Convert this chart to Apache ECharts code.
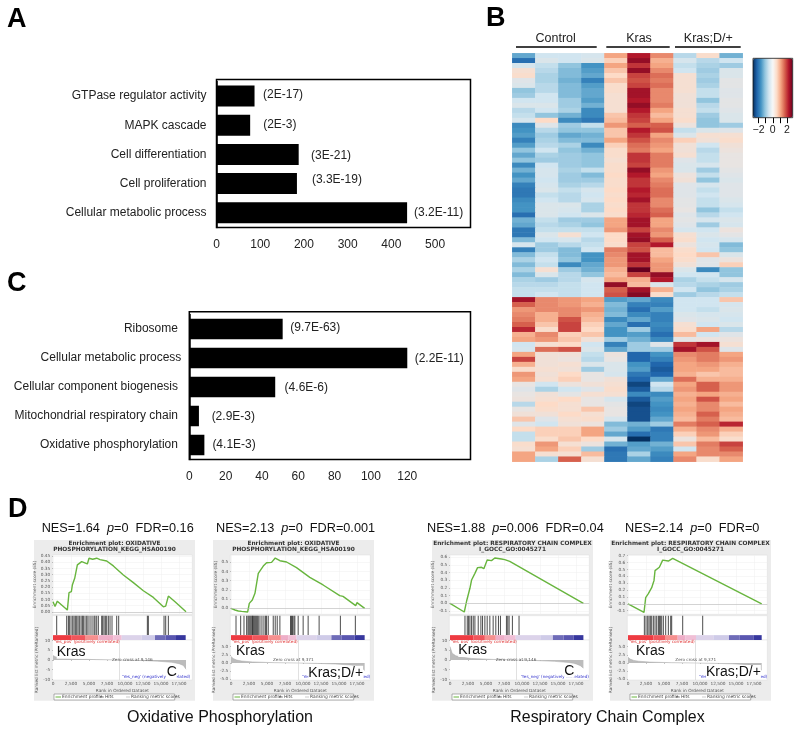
<!DOCTYPE html>
<html><head><meta charset="utf-8">
<style>html,body{margin:0;padding:0;background:#fff}#c{width:800px;height:734px}</style>
<script src="https://cdn.jsdelivr.net/npm/echarts@6/dist/echarts.min.js"></script>
</head><body><div id="c"></div>
<script>
// ---------- Panel A ----------
const catA = ['GTPase regulator activity','MAPK cascade','Cell differentiation','Cell proliferation','Cellular metabolic process'];
const valA = [87,77,188,184,436];
const pA = ['(2E-17)','(2E-3)','(3E-21)','(3.3E-19)','(3.2E-11)'];
const ticksA = [0,100,200,300,400,500];
// ---------- Panel C ----------
const catC = ['Ribosome','Cellular metabolic process','Cellular component biogenesis','Mitochondrial respiratory chain','Oxidative phosphorylation'];
const valC = [51.4,120,47.3,5.3,8.3];
const pC = ['(9.7E-63)','(2.2E-11)','(4.6E-6)','(2.9E-3)','(4.1E-3)'];
const ticksC = [0,20,40,60,80,100,120];
// ---------- Panel B heatmap: rows top to bottom, columns C1-4, K1-3, D1-3 ----------
const heatCols = ['C1','C2','C3','C4','K1','K2','K3','D1','D2','D3'];
const heatRows = [
[-1.3,-.5,-.5,-.4,1,2,1.2,-.7,.4,-1.2],
[-1.9,-.3,-.5,-.3,.6,2.2,.9,-.4,-.7,-.5],
[-.4,-.6,-1,-1.5,1,1.8,1,-.6,-.8,-.9],
[.3,-.7,-1.1,-1.4,.7,2.2,1.2,-.5,-.9,-.3],
[.4,-.8,-1.1,-1.3,.5,1.7,1.4,.3,-.8,-.3],
[-.2,-.8,-1.2,-1.7,.7,1.6,1.3,.3,-.9,-.1],
[-.3,-.7,-1.1,-1.4,.4,1.7,1.4,.3,-.8,-.1],
[-1,-.7,-1.1,-1.3,.4,2.1,1.2,.3,-.6,-.2],
[-.9,-.5,-1.1,-1.3,.3,2.1,1.2,.2,-.6,-.2],
[-.5,-.5,-.9,-1.4,.3,2,1.2,.2,-1,-.1],
[-.3,-.3,-.9,-1.2,.3,2.2,1.3,.2,-.7,-.1],
[-.7,-.5,-.8,-1.6,.3,2,1,.3,-.6,-.2],
[-.6,-1,-1.2,-1.6,.7,1.8,.8,.3,-.9,-.3],
[-.4,.5,-1.6,-1.8,.8,1.7,1,.4,-1,-.3],
[-1.6,-.2,-.9,-.6,1.1,1.5,1.5,.1,-1,-.9],
[-1.5,-.7,-1,-1,.7,2,1.6,-.6,-.3,-.2],
[-1.4,-.9,-1.3,-1.2,.7,1.8,1,-.3,.3,.3],
[-1.7,-.8,-1.1,-1.1,1,1.6,1.2,.6,.2,.4],
[-1.4,-.7,-.8,-1.6,.6,1.4,1.1,.2,-.5,.2],
[-1,-.5,-1,-1.2,.4,1.3,1,.2,-.7,.1],
[-1.3,-.8,-.9,-1,.4,1.8,1.3,.3,-.6,0],
[-1,-.9,-.9,-1,.3,1.8,1.3,-.2,-.6,0],
[-1.6,-.5,-.9,-1,.4,1.7,1.3,-.3,-.4,0],
[-1.2,-.4,-.8,-.6,.4,2.2,1.1,-.3,-.9,-.1],
[-1.5,-.4,-.9,-1.1,.5,2,1,.1,-.6,-.2],
[-1.3,-.5,-.9,-.9,.4,1.8,1.2,.2,-1,-.3],
[-1.7,-.4,-.8,-.7,.4,1.8,1.3,-.2,-.4,-.2],
[-1.8,-.3,-.6,-.4,.5,2,1.4,-.2,-.6,-.2],
[-1.8,-.6,-.7,-.5,.4,1.9,1.4,-.2,-.5,-.2],
[-1.6,-.5,-.7,-.4,.5,2.1,1.2,-.1,-.6,-.3],
[-1.5,-.3,-.3,-.8,.4,1.8,1.2,-.1,-.6,-.4],
[-1.5,-.3,-.4,-.8,.5,1.8,1.4,0,-1,-.6],
[-1.9,-.3,-.5,-.3,.4,1.9,1.5,-.2,-.7,-.5],
[-1.2,-.6,-.9,-.9,1,2.1,1,-.1,-.4,-.3],
[-1.3,-.7,-.8,-1,1,2.1,1,-.2,-.9,-.4],
[-1.8,-.6,-.6,-.6,1.1,1.7,1.2,-.4,-.5,.1],
[-1.8,-.3,.3,-.5,.5,2.1,1.1,.3,-.3,-.1],
[-1.1,-.5,-.4,-.7,.5,2.2,1.5,.4,-.5,-.4],
[-.4,-.9,-.7,-.6,.4,1.7,2,.1,-.4,-1.1],
[-1.7,-.9,-1.1,-.5,1.3,1.6,.8,.4,-.5,-1],
[-1.1,-.6,-1.1,-1.5,1.2,2.1,.8,.5,.7,-.3],
[-.8,-.5,-1,-1.5,1.1,2.1,1,.4,-.2,.1],
[-1.1,-.6,-1.6,-1.3,1.1,1.8,1.1,.2,-.2,.6],
[-.8,.3,-.9,-1.2,.9,2.5,1.1,-.3,-1.6,-1],
[-1.1,-.3,-.7,-1,.8,1.7,2.2,-.5,-.5,-1],
[-.8,-.9,-.7,-.4,1,.9,2,-.8,-.6,-.4],
[-.7,-.7,-.6,-.5,2.2,.8,-.3,-.7,-.8,-.9],
[-.6,-.6,-.6,-.5,1.5,2.1,.9,-.5,-1,-.8],
[-.6,-.5,-.6,-.5,1.6,2.3,.4,-.9,-.7,-.6],
[2.1,1.2,1.1,1,-1.4,-1.3,-1.6,-.5,-.5,.7],
[1.5,1.2,1.1,.9,-1.1,-1.7,-1.7,-.5,-.5,-.4],
[1.1,1.2,1.2,1.1,-1.2,-1.9,-1.4,-.5,-.6,-.3],
[1.2,.9,1.2,.9,-1.1,-1.6,-1.7,-.3,-.4,-.4],
[1.3,.9,1.6,.8,-1.6,-1.3,-1.7,-.2,-.3,-.5],
[1.5,.7,1.7,.6,-1.3,-1.9,-1.6,.3,-.5,-.3],
[1.9,.4,1.7,.5,-1.5,-.9,-1.7,.4,1,-.7],
[.9,1.2,.6,.7,-1.5,-1.4,-1.9,.8,-.5,-.2],
[1,1.1,.7,.2,-.9,-1.2,-1.6,-.1,.1,.1],
[-.5,.3,.5,-.5,-1.7,-.9,-.2,1.8,2.1,.3],
[-.4,1.4,1.6,-.3,-1.3,-.9,-.9,2.1,1.6,-.2],
[1,.2,.2,-.6,.1,-2,-1.5,1.2,1.3,1],
[1.7,.2,.1,-.7,0,-2,-1.7,1.1,1.3,1.1],
[.9,.2,.3,-.3,-.3,-1.5,-2,1,1.1,.9],
[.4,.3,.2,-.9,-.3,-1.4,-2.1,1,1,.8],
[1.1,.2,.5,0,-.4,-1.8,-2,.9,.7,.8],
[1,.3,.6,0,.2,-2,-1.3,1.4,.9,.9],
[0,-.5,.1,.2,.3,-2.3,-.5,1,1.5,1.1],
[-.2,-.8,-.5,-.2,.4,-2.1,-.7,1.1,1.5,1.1],
[0,.2,-.1,.3,.3,-1.6,-1.6,.9,1,.9],
[.1,.3,.5,0,-.4,-2.1,-1.4,1,1.6,1],
[-.7,.5,.3,0,-.1,-2.3,-1.5,.9,1.2,.8],
[0,.4,.3,.7,0,-2.2,-1.6,1,1.2,1],
[.2,.2,.5,.3,0,-2.2,-1.5,.9,1.5,.9],
[.7,-.2,.3,.4,-.4,-2.2,-1.3,.8,1.3,.8],
[-.2,-.5,.2,.1,-1.1,-1.2,-.9,1.3,1.5,1.9],
[.5,.6,.6,1,-.9,-1.4,-1.8,.9,1.2,.9],
[-.6,.6,.6,1,-1.3,-1.9,-1.7,.6,1.1,.6],
[-.6,.4,.7,.5,-.4,-2.5,-1.7,.1,.8,.4],
[.4,1.1,.3,.1,-1.2,-1.4,-1.2,.7,1.3,1.7],
[.3,1,.6,-.9,-1.9,-1.3,-1.4,-.5,1.2,1.5],
[1,.3,.3,.8,-1.8,-.8,-1.6,1,1.2,1.2],
[1,-.8,1.5,.3,-1.8,-1.3,-1.7,1.2,.4,1]
];
const heatGroups = ['Control','Kras','Kras;D/+'];
const scaleTicks = [-2,-1,0,1,2];
const scaleLabels = [-2,0,2];
// ---------- Panel D: GSEA mini plots ----------
const headers = [['NES=1.64','p','=0','FDR=0.16'],['NES=2.13','p','=0','FDR=0.001'],['NES=1.88','p','=0.006','FDR=0.04'],['NES=2.14','p','=0','FDR=0']];
const titleA = ['Enrichment plot: OXIDATIVE','Enrichment plot: OXIDATIVE','Enrichment plot: RESPIRATORY CHAIN COMPLEX','Enrichment plot: RESPIRATORY CHAIN COMPLEX'];
const titleB = ['PHOSPHORYLATION_KEGG_HSA00190','PHOSPHORYLATION_KEGG_HSA00190','I_GOCC_GO:0045271','I_GOCC_GO:0045271'];
const rightGroup = ['C','Kras;D/+','C','Kras;D/+'];
const rankTicksX = [0,2500,5000,7500,10000,12500,15000,17500];
const esX1 = [0,278,600,1990,2220,2546,2685,3009,3380,3981,4769,5000,5509,6065,6528,7454,8380,9769,11157,12546,13935,15324,15648,16019,16944,18472];
const esY1 = [.081,.043,.086,.014,.154,.162,.216,.27,.378,.405,.386,.432,.424,.432,.421,.41,.37,.297,.235,.17,.116,.04,.046,.127,.081,0];
const esX2 = [0,554,1016,1477,2308,2539,2955,3324,3786,4478,4940,5633,6140,6787,7710,9095,10942,12788,15097,15558,17313,17498,18560];
const esY2 = [0,-.018,-.029,-.033,-.04,.054,.091,.163,.38,.46,.496,.5,.547,.518,.504,.442,.337,.254,.138,.13,.029,.062,0];
const esX3 = [0,1982,2304,2535,2765,2995,3456,3825,4378,4700,5161,5760,6221,7143,7604,8295,18525];
const esY3 = [0,-.113,.03,.043,.196,.304,.391,.465,.47,.452,.565,.557,.591,.578,.57,.548,0];
const esX4 = [0,2222,2454,2824,3287,3611,3750,4352,4815,5602,6204,18565];
const esY4 = [0,-.124,.091,.148,.234,.34,.483,.531,.636,.622,.66,0];
const hits1 = [509,1898,2130,2269,2500,2731,2917,3102,3287,3472,3657,3889,4074,4213,4444,4676,4861,5139,5417,5694,5833,6065,6296,6759,6898,7083,7269,7454,7685,7917,8194,8843,9120,13102,13241,15417,15648,16019];
const hits2 = [693,1339,1801,2170,2355,2493,2632,2770,2909,3001,3093,3232,3370,3509,3647,3786,4017,4294,4571,4801,4940,5171,5863,6140,6417,6787,8264,8403,8541,8726,8864,9326,10018,10711,12235,15189,17267];
const hits3 = [2074,2396,2581,2765,2995,3226,3456,3917,4286,4516,4839,5161,5530,5991,6359,6728,7005,7834,8018,8203,8664,9585];
const hits4 = [2269,2500,2731,2917,3102,3287,3519,3750,3981,4213,4352,4491,4676,4907,5231,5602,5926,6065,7593,10370];
const bandColors = ['#ee3b42','#f0565c','#f6908f','#eeaec8','#f0bfd6','#dcd3ea','#cfcbe8','#6f6cb8','#5a57b0','#37379e'];
const band1 = [0,2593,4444,6296,8380,9537,12315,14167,15648,17083,18426];
const band2 = [0,3000,5171,6925,8000,9095,11865,13943,15328,17175,18560];
const band3 = [0,3226,4839,6359,7500,9124,12535,14286,15760,17143,18525];
const band4 = [0,3519,5139,6898,8000,9444,11852,14028,15463,17407,18565];
const rankX1 = [0,300,800,1500,3000,6000,9146,12000,14500,16500,17500,18100,18472];
const rankY1 = [2.3,1.7,1.2,.9,.5,.2,0,-.2,-.6,-1.2,-1.9,-2.8,-4.8];
const rankX2 = [0,300,800,1500,3000,6000,9371,12000,14500,16500,17500,18100,18560];
const rankY2 = [2,1.4,.9,.6,.35,.1,0,-.12,-.3,-.6,-.9,-1.3,-2.3];
const rankX3 = [0,300,800,1500,3000,6000,9146,12000,14500,16500,17500,18100,18525];
const rankY3 = [6.9,3.5,2.2,1.5,.8,.3,0,-.3,-.7,-1.3,-2,-2.9,-4.2];
const rankX4 = [0,300,800,1500,3000,6000,9371,12000,14500,16500,17500,18100,18565];
const rankY4 = [1.8,1.2,.8,.55,.3,.1,0,-.1,-.25,-.5,-.8,-1.2,-2.2];
const zeroCross = [9146,9371,9146,9371];
const esTicks = [[0,.05,.1,.15,.2,.25,.3,.35,.4,.45],[0,.1,.2,.3,.4,.5],[-.1,0,.1,.2,.3,.4,.5,.6],[-.1,0,.1,.2,.3,.4,.5,.6,.7]];
const rankTicksY = [[-10,-5,0,5,10],[-5,-2.5,0,2.5,5],[-10,-5,0,5,10],[-5,-2.5,0,2.5,5]];
const sectionLabels = ['Oxidative Phosphorylation','Respiratory Chain Complex'];

// ---------- layout (not data) ----------
const SANS = '"Liberation Sans",Arial,sans-serif';
const DJ = '"DejaVu Sans",sans-serif';
const gridsOut=[], xAxes=[], yAxes=[], seriesOut=[], g=[];
function text(x,y,t,font,fill,align,extra){g.push({type:'text',silent:true,z:50,style:Object.assign({x,y,text:t,font,fill:fill||'#111',textAlign:align||'left',textVerticalAlign:'middle'},extra||{})});}
function line(x1,y1,x2,y2,c,w){g.push({type:'line',silent:true,z:50,shape:{x1,y1,x2,y2},style:{stroke:c,lineWidth:w}});}
function addGrid(gr,x,y){const i=gridsOut.length;gridsOut.push(Object.assign({containLabel:false},gr));xAxes.push(Object.assign({gridIndex:i},x));yAxes.push(Object.assign({gridIndex:i},y));return i;}

function barPanel(frame,box,cats,vals,ps,ticks,xmax,barH,gaps,offs,margin,fmt){
  g.push({type:'rect',silent:true,z:30,shape:{x:frame[0],y:frame[1],width:frame[2],height:frame[3]},style:{fill:'transparent',stroke:'#000',lineWidth:1.5}});
  const i=addGrid({left:box[0],top:box[1],width:box[2],height:box[3]},
  {type:'value',min:0,max:xmax,splitLine:{show:false},axisLine:{lineStyle:{color:'#000',width:1.5}},axisTick:{length:4,customValues:ticks,lineStyle:{color:'#000',width:1}},axisLabel:{customValues:ticks,margin:11,fontFamily:SANS,fontSize:12,color:'#222'}},
  {type:'category',inverse:true,data:cats,axisLine:{lineStyle:{color:'#000',width:1.5}},axisTick:{alignWithLabel:true,length:4,lineStyle:{color:'#000',width:1.5}},axisLabel:{margin:margin,fontFamily:SANS,fontSize:12,color:'#222',formatter:fmt||undefined}});
  seriesOut.push({type:'bar',xAxisIndex:i,yAxisIndex:i,barWidth:barH,itemStyle:{color:'#000'},
    data:vals.map((v,k)=>({value:v,label:{show:true,position:'right',distance:gaps[k],offset:[0,offs[k]],formatter:ps[k],fontFamily:SANS,fontSize:12,color:'#222'}}))});
}
barPanel([216.5,79.5,254,148],[216.5,81.4,254,146],catA,valA,pA,ticksA,581,21,[8.5,13,12.4,15,7],[-1.7,-1,1.7,-3.7,0],10);
barPanel([189.3,311.7,281.2,147.8],[189.3,314.5,281.2,145],catC,valC,pC,ticksC,154.8,20.5,[7.6,7.4,9.4,12.7,8],[-1,1,1,1,-.7],8,v=>v===catC[1]?v:v+' ');

// heatmap
const hi=addGrid({left:512.3,top:53.3,width:230.4,height:408.4},
  {type:'category',data:heatCols,show:false},
  {type:'category',inverse:true,data:heatRows.map((_,i)=>'r'+i),show:false});
const heatIdx=seriesOut.length;
const heatData=[];heatRows.forEach((r,y)=>r.forEach((v,x)=>heatData.push([x,y,v])));
seriesOut.push({type:'heatmap',xAxisIndex:hi,yAxisIndex:hi,data:heatData,progressive:0,itemStyle:{borderWidth:0}});
[[516,596.7,555.7],[606.3,669.7,639],[675,740.7,708.3]].forEach((b,k)=>{line(b[0],47,b[1],47,'#000',1.5);text(b[2],39,heatGroups[k],'12.5px '+SANS,'#222','center');});

// colour scale
const ci=addGrid({left:753,top:58.3,width:39.7,height:59.4},
  {type:'value',min:-2.78,max:2.8,position:'bottom',splitLine:{show:false},axisLine:{show:false},axisTick:{length:5.5,customValues:scaleTicks,lineStyle:{color:'#000',width:1}},
   axisLabel:{customValues:scaleLabels,margin:7,fontFamily:SANS,fontSize:10.5,color:'#222',formatter:v=>String(v).replace('-','\u2212')},z:10},
  {type:'value',show:false,min:0,max:1});
const scaleIdx=seriesOut.length;
seriesOut.push({type:'scatter',xAxisIndex:ci,yAxisIndex:ci,data:[]});
g.push({type:'rect',silent:true,z:60,shape:{x:753,y:58.3,width:39.7,height:59.4},style:{fill:'transparent',stroke:'#1a1a1a',lineWidth:.8}});

// GSEA panels
const panels=[
 {box:34, gl:52.3, esX:esX1,esY:esY1,hits:hits1,band:band1,rx:rankX1,ry:rankY1,es:[-.02,.458],rk:[-10.3,10.3],dec:2,kx:56.7,ky:651.7,rxp:166.7,ryp:671.7,zt:132.3,zl:'Zero cross at 9,146',neg:122},
 {box:213,gl:230.3,esX:esX2,esY:esY2,hits:hits2,band:band2,rx:rankX2,ry:rankY2,es:[-.065,.58],rk:[-5.2,7.05],dec:1,kx:236,ky:651.3,rxp:308.3,ryp:672.7,zt:293.3,zl:'Zero cross at 9,371',neg:302},
 {box:432,gl:449.3,esX:esX3,esY:esY3,hits:hits3,band:band3,rx:rankX3,ry:rankY3,es:[-.143,.63],rk:[-10.3,10.3],dec:1,kx:458.3,ky:650,rxp:564.3,ryp:670.7,zt:516,zl:'Zero cross at 9,146',neg:520.7},
 {box:610,gl:627.3,esX:esX4,esY:esY4,hits:hits4,band:band4,rx:rankX4,ry:rankY4,es:[-.153,.71],rk:[-5.2,7.05],dec:1,kx:636,ky:651.3,rxp:706,ryp:672,zt:695.7,zl:'Zero cross at 9,371',neg:699}
];
const headX=[41.7,216,427,625];
const xmin=-100,xmax=19344,smallLab={fontFamily:DJ,fontSize:4.3,color:'#555'};
panels.forEach((p,k)=>{
  g.push({type:'rect',silent:true,z:-10,shape:{x:p.box,y:540,width:161,height:160.7},style:{fill:'#ececec'}});
  const xbase={type:'value',min:xmin,max:xmax,axisLine:{show:false},axisTick:{show:false},axisLabel:{show:false},splitLine:{show:false}};
  // enrichment
  const a=addGrid({left:p.gl,top:555,width:140,height:59.3,show:true,backgroundColor:'#fff',borderColor:'#ddd',borderWidth:.5},
    Object.assign({},xbase,{axisTick:{show:false,customValues:rankTicksX},splitLine:{show:true,lineStyle:{color:'#efefef',width:.5}}}),
    {type:'value',min:p.es[0],max:p.es[1],name:'Enrichment score (ES)',nameLocation:'middle',nameGap:10,nameTextStyle:smallLab,
     axisLine:{show:false},axisTick:{length:1,customValues:esTicks[k],lineStyle:{color:'#888',width:.5}},splitLine:{show:true,lineStyle:{color:'#efefef',width:.5}},
     axisLabel:Object.assign({customValues:esTicks[k],margin:2,formatter:v=>v.toFixed(p.dec)},smallLab)});
  seriesOut.push({type:'line',xAxisIndex:a,yAxisIndex:a,symbol:'none',lineStyle:{color:'#68b53e',width:1.4},data:p.esX.map((x,i)=>[x,p.esY[i]]),
    markLine:{silent:true,symbol:'none',label:{show:false},lineStyle:{color:'#bbb',width:.6,type:'solid'},data:[{yAxis:0}]}});
  // hits + colour band
  const b=addGrid({left:p.gl,top:615.7,width:140,height:24.3,show:true,backgroundColor:'#fff',borderColor:'#ddd',borderWidth:.5},
    Object.assign({},xbase),{type:'value',min:0,max:1,show:false});
  seriesOut.push({type:'scatter',xAxisIndex:b,yAxisIndex:b,symbol:'rect',symbolSize:[1,19.2],itemStyle:{color:'#111',opacity:.75},data:p.hits.map(x=>[x,.6]),
    markArea:{silent:true,data:bandColors.map((c,i)=>[{xAxis:p.band[i],yAxis:0,itemStyle:{color:c,opacity:1}},{xAxis:p.band[i+1],yAxis:.2}])}});
  // ranking metric
  const r=addGrid({left:p.gl,top:640,width:140,height:40,show:true,backgroundColor:'#fff',borderColor:'#ddd',borderWidth:.5},
    {type:'value',min:xmin,max:xmax,name:'Rank in Ordered Dataset',nameLocation:'middle',nameGap:9,nameTextStyle:smallLab,axisLine:{show:false},axisTick:{length:1,customValues:rankTicksX,lineStyle:{color:'#888',width:.5}},splitLine:{show:false},
     axisLabel:Object.assign({customValues:rankTicksX,margin:2,formatter:v=>v.toLocaleString('en-US')},smallLab)},
    {type:'value',min:p.rk[0],max:p.rk[1],name:'Ranked list metric (PreRanked)',nameLocation:'middle',nameGap:10,nameTextStyle:smallLab,axisLine:{show:false},
     axisTick:{length:1,customValues:rankTicksY[k],lineStyle:{color:'#888',width:.5}},splitLine:{show:false},
     axisLabel:Object.assign({customValues:rankTicksY[k],margin:2,formatter:v=>p.dec===2||k===2?String(v):v.toFixed(1)},smallLab)});
  seriesOut.push({type:'line',xAxisIndex:r,yAxisIndex:r,symbol:'none',lineStyle:{color:'#aaa',width:.5},areaStyle:{color:'#bcbcbc',opacity:1,origin:0},data:p.rx.map((x,i)=>[x,p.ry[i]]),
    markLine:{silent:true,symbol:'none',label:{show:false},lineStyle:{color:'#ccc',width:.6,type:'solid'},data:[{xAxis:zeroCross[k]}]}});
  // texts
  const cx=p.box+80.5;
  text(cx,543.3,titleA[k],'bold 5.85px '+DJ,'#333','center');
  text(cx,549.7,titleB[k],'bold 5.85px '+DJ,'#333','center');
  const h=headers[k];
  text(headX[k],528,h[0]+'  {i|'+h[1]+'}'+h[2]+'  '+h[3],'12.7px '+SANS,'#111','left',{rich:{i:{font:'italic 12.7px '+SANS,fill:'#111'}}});
  text(p.gl+1.5,641.5,"'Yes_pos' (positively correlated)",'4.2px '+DJ,'#e03030');
  text(p.neg,677.3,"'Yes_neg' (negatively correlated)",'4.2px '+DJ,'#3333cc');
  text(p.zt,659.8,p.zl,'4.2px '+DJ,'#555','center');
  text(p.kx,p.ky,'Kras','14px '+SANS,'#111','left',{backgroundColor:'#fff'});
  text(p.rxp,p.ryp,rightGroup[k],'14px '+SANS,'#111','left',{backgroundColor:'#fff'});
  // legend box
  const lx=p.box+20;
  g.push({type:'rect',silent:true,z:40,shape:{x:lx,y:694,width:120.7,height:6},style:{fill:'#fff',stroke:'#666',lineWidth:.5}});
  line(lx+1.5,697,lx+7,697,'#68b53e',1);
  text(lx+8,697,'Enrichment profile','4.4px '+DJ,'#444');
  line(lx+46,697,lx+50,697,'#444',.6);
  text(lx+51,697,'Hits','4.4px '+DJ,'#444');
  line(lx+72,697,lx+76,697,'#aaa',.6);
  text(lx+77,697,'Ranking metric scores','4.4px '+DJ,'#444');
});
text(220,718,sectionLabels[0],'16px '+SANS,'#111','center');
text(607.5,718,sectionLabels[1],'15.9px '+SANS,'#111','center');
// letters
const bold='bold 27px '+SANS;
text(7,19.5,'A',bold,'#000');text(486,19,'B',bold,'#000');text(7,284,'C',bold,'#000');text(8,510,'D',bold,'#000');

const chart=echarts.init(document.getElementById('c'));
chart.setOption({
  animation:false,backgroundColor:'#fff',
  grid:gridsOut,xAxis:xAxes,yAxis:yAxes,series:seriesOut,graphic:{elements:g},
  tooltip:{show:false},
  visualMap:[
   {type:'continuous',show:false,seriesIndex:heatIdx,min:-2.5,max:2.5,inRange:{color:['#053061','#2166AC','#4393C3','#92C5DE','#D1E5F0','#E8E4E2','#FDDBC7','#F4A582','#D6604D','#B2182B','#67001F']}},
   {type:'continuous',show:true,seriesIndex:scaleIdx,min:-2.8,max:2.8,orient:'horizontal',left:753,top:58.3,itemWidth:59.4,itemHeight:39.7,padding:0,text:null,calculable:false,showLabel:false,hoverLink:false,
    inRange:{color:['#053061','#2166AC','#4393C3','#92C5DE','#D1E5F0','#F7F7F7','#FDDBC7','#F4A582','#D6604D','#B2182B','#67001F']}}
  ]
});
</script></body></html>
